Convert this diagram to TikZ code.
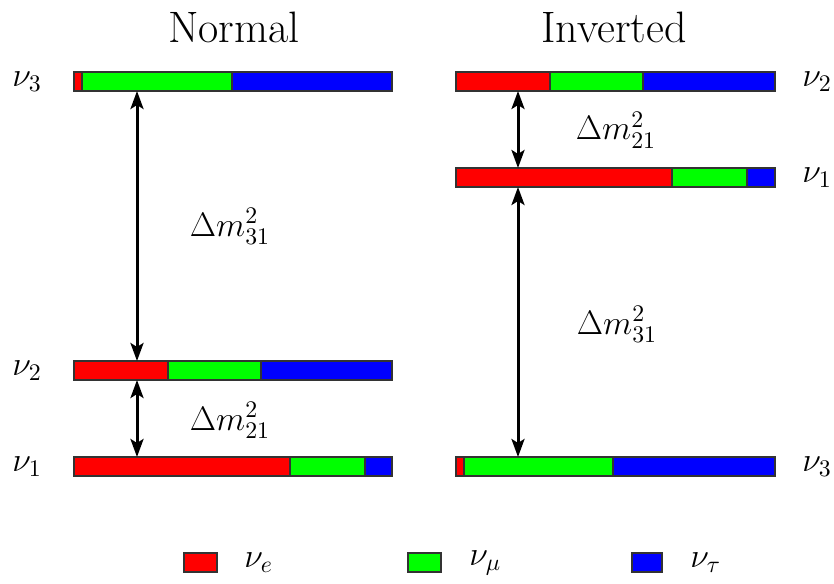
\documentclass[tikz,border=0pt]{standalone}
\usepackage{fix-cm}
\usepackage{amsmath}
\usetikzlibrary{arrows.meta}

% one mass level: #1 = y, #2 = left, #3 = end of red, #4 = end of green, #5 = right
\newcommand{\massbar}[5]{%
    \filldraw[bar, fill=red]   (#2,#1-9.5) rectangle (#3,#1+9.5);
    \filldraw[bar, fill=green] (#3,#1-9.5) rectangle (#4,#1+9.5);
    \filldraw[bar, fill=blue]  (#4,#1-9.5) rectangle (#5,#1+9.5);
}

\begin{document}
\begin{tikzpicture}[x=0.5pt, y=-0.5pt,
    bar/.style={draw=black!80, line width=0.6pt},
    split/.style={{Stealth[length=9pt,width=6.5pt,inset=2pt]}-{Stealth[length=9pt,width=6.5pt,inset=2pt]}, line width=1.5pt},
    lbl/.style={font=\fontsize{17}{20}\selectfont, inner sep=0pt},
    title/.style={font=\fontsize{22}{26}\selectfont}]
    \useasboundingbox (0,0) rectangle (834,583);
    % normal ordering
    \massbar{81.5}{74}{82}{232}{392}
    \massbar{370.5}{74}{168}{261}{392}
    \massbar{466.5}{74}{290}{365}{392}
    % inverted ordering
    \massbar{81.5}{456}{550}{643}{775}
    \massbar{177.5}{456}{672}{747}{775}
    \massbar{466.5}{456}{464}{613}{775}
    \coordinate (N3) at (137,91);
    \coordinate (N2t) at (137,361);
    \coordinate (N2b) at (137,380);
    \coordinate (N1) at (137,457);
    \coordinate (I2) at (518,91);
    \coordinate (I1t) at (518,168);
    \coordinate (I1b) at (518,187);
    \coordinate (I3) at (518,457);
    \draw[split] (N3) -- (N2t);
    \draw[split] (N2b) -- (N1);
    \draw[split] (I2) -- (I1t);
    \draw[split] (I1b) -- (I3);
    % texts
    \node[title] (normal) at (234,27) {Normal};
    \node[title] (inverted) at (614,27) {Inverted};
    \node[lbl, anchor=base] (dm31n) at (230,236) {$\Delta m^2_{31}$};
    \node[lbl, anchor=base] (dm21n) at (230,430) {$\Delta m^2_{21}$};
    \node[lbl, anchor=base] (dm21i) at (616,140) {$\Delta m^2_{21}$};
    \node[lbl, anchor=base] (dm31i) at (617,334) {$\Delta m^2_{31}$};
    \node[lbl, anchor=west] (n3) at (12,81.5) {$\nu_3$};
    \node[lbl, anchor=west] (n2) at (12,370.5) {$\nu_2$};
    \node[lbl, anchor=west] (n1) at (12,466.5) {$\nu_1$};
    \node[lbl, anchor=west] (i2) at (802,81.5) {$\nu_2$};
    \node[lbl, anchor=west] (i1) at (802,177.5) {$\nu_1$};
    \node[lbl, anchor=west] (i3) at (802,466.5) {$\nu_3$};
    % legend
    \filldraw[bar, fill=red]   (184,553) rectangle (217,572);
    \filldraw[bar, fill=green] (408,553) rectangle (441,572);
    \filldraw[bar, fill=blue]  (632,553) rectangle (662,572);
    \node[lbl, anchor=west] (ve) at (244,563) {$\nu_e$};
    \node[lbl, anchor=west] (vm) at (469,563) {$\nu_\mu$};
    \node[lbl, anchor=west] (vt) at (690,563) {$\nu_\tau$};
\end{tikzpicture}
\end{document}
